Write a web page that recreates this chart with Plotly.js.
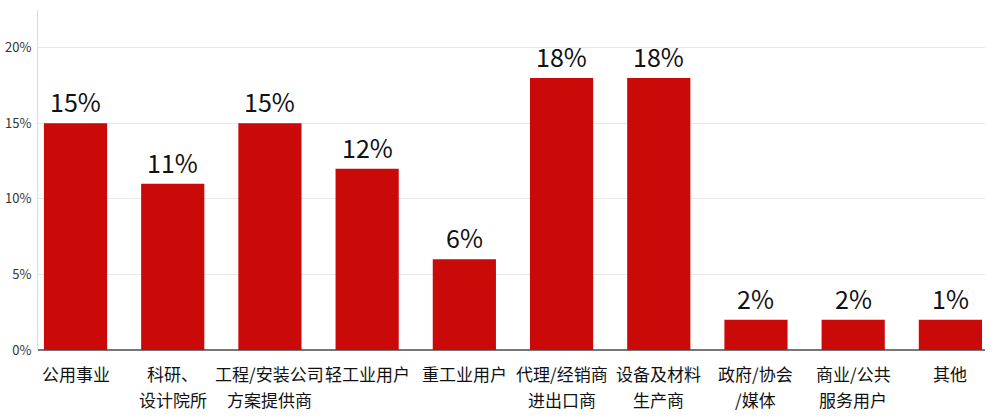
<!DOCTYPE html>
<html>
<head>
<meta charset="utf-8">
<script src="https://cdn.plot.ly/plotly-3.0.1.min.js"></script>
<style>
  html, body { margin: 0; padding: 0; background: #fff; }
  #chart { width: 1000px; height: 419px; }
</style>
</head>
<body>
<div id="chart"></div>
<script>
// categories (one array of text lines each) and values
const categoryLines = [
  ['公用事业'],
  ['科研、', '设计院所'],
  ['工程/安装公司', '方案提供商'],
  ['轻工业用户'],
  ['重工业用户'],
  ['代理/经销商', '进出口商'],
  ['设备及材料', '生产商'],
  ['政府/协会', '/媒体'],
  ['商业/公共', '服务用户'],
  ['其他']
]
// bar heights as drawn (the last bar is drawn at the 2% level)
const shares = [15, 11, 15, 12, 6, 18, 18, 2, 2, 2]
// labels printed above the bars
const shareLabels = ['15%', '11%', '15%', '12%', '6%', '18%', '18%', '2%', '2%', '1%']
const yTicks = [0, 5, 10, 15, 20]
const yTickLabels = ['0%', '5%', '10%', '15%', '20%']

const font = '"Noto Sans CJK SC", "Noto Sans", sans-serif'
const categories = categoryLines.map(lines => lines.join(''))

const trace = {
  type: 'bar',
  x: categories,
  y: shares,
  marker: { color: '#CA0909' },
  width: 0.65,
  hoverinfo: 'none',
}

// value labels sit a little above each bar
const annotations = categories.map((c, i) => ({
  x: c,
  y: shares[i],
  xref: 'x',
  yref: 'y',
  text: shareLabels[i],
  showarrow: false,
  yanchor: 'bottom',
  yshift: 2,
  font: { family: font, size: 25, color: '#111' },
}))

// category names under the axis, one line at a time for the wider line gap
categoryLines.forEach((lines, i) => {
  lines.forEach((line, k) => {
    annotations.push({
      x: categories[i],
      y: 0,
      xref: 'x',
      yref: 'paper',
      text: line,
      showarrow: false,
      yanchor: 'top',
      yshift: -9 - k * 26,
      font: { family: font, size: 17, color: '#111' },
    })
  })
})

const layout = {
  width: 1000,
  height: 419,
  margin: { l: 38, r: 15, t: 10, b: 69 },
  paper_bgcolor: '#fff',
  plot_bgcolor: '#fff',
  font: { family: font, color: '#222' },
  showlegend: false,
  annotations: annotations,
  xaxis: {
    type: 'category',
    range: [-0.386, 9.356],
    showgrid: false,
    zeroline: false,
    showline: false,
    ticks: '',
    showticklabels: false,
  },
  yaxis: {
    range: [0, 22.5],
    tickvals: yTicks,
    ticktext: yTickLabels,
    tickfont: { family: font, size: 13, color: '#333' },
    showgrid: true,
    gridcolor: '#e8e8e8',
    gridwidth: 1,
    zeroline: true,
    zerolinecolor: '#777',
    zerolinewidth: 2,
    showline: true,
    linecolor: '#ddd',
    linewidth: 1,
    ticks: '',
    ticklabelstandoff: 3,
  },
}

Plotly.newPlot('chart', [trace], layout, { displayModeBar: false, staticPlot: true })
</script>
</body>
</html>
